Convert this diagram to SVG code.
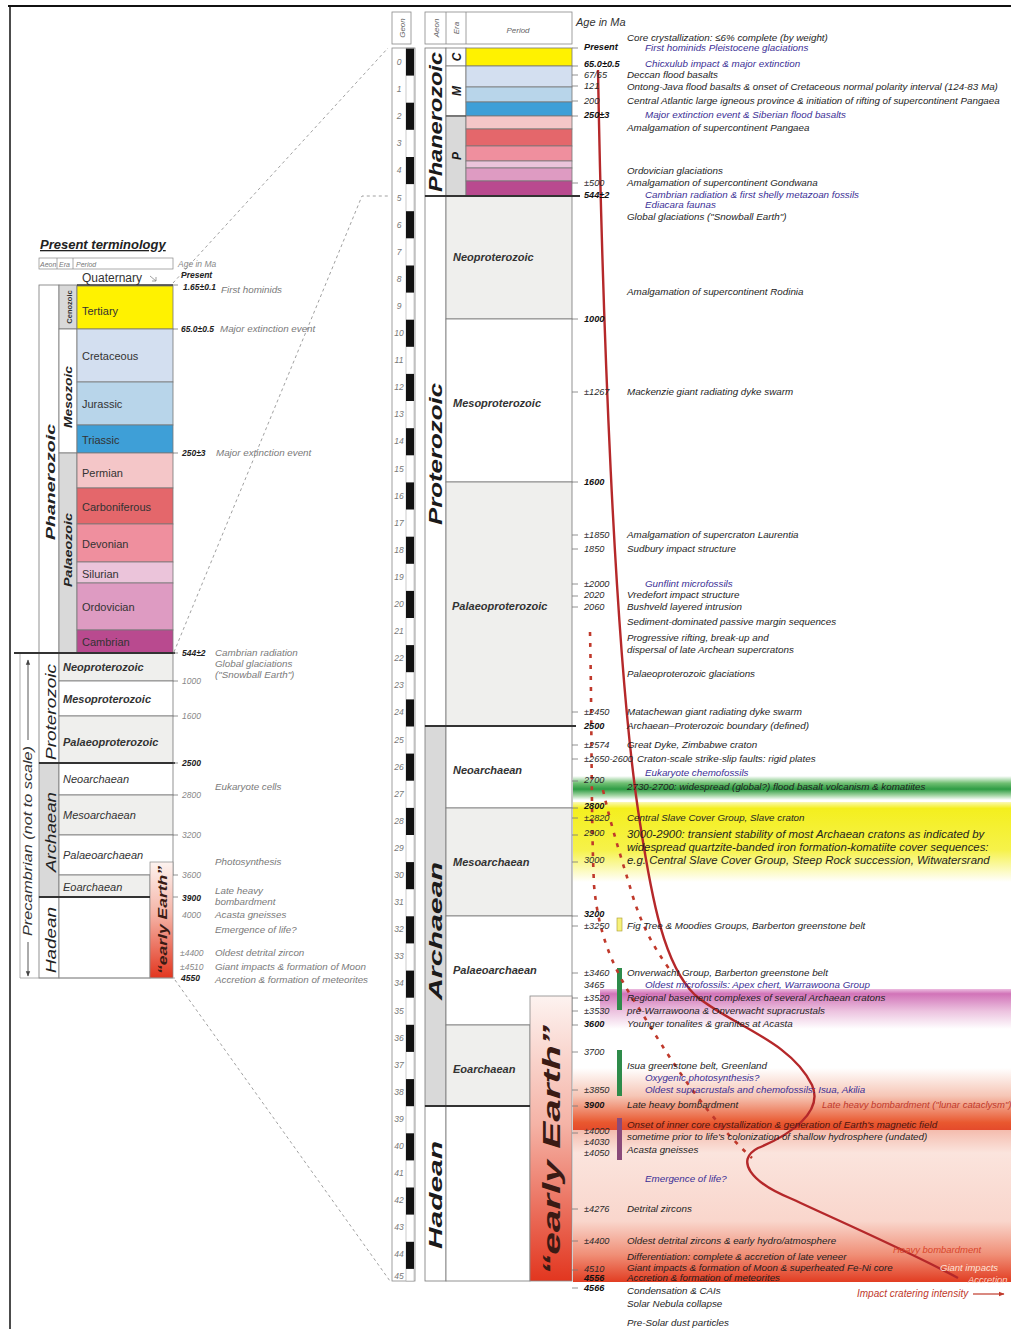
<svg xmlns="http://www.w3.org/2000/svg" width="1011" height="1329" viewBox="0 0 1011 1329">
<style>
text{font-family:"Liberation Sans",Arial,sans-serif}
.ev{font-size:9.8px;font-style:italic;fill:#1e1e1e}
.evl{font-size:11.4px;font-style:italic;fill:#1e1e1e}
.bl{font-size:9.8px;font-style:italic;fill:#3b2f96}
.ag{font-size:9.2px;font-style:italic;fill:#2a2a2a}
.agb{font-size:9.2px;font-style:italic;font-weight:bold;fill:#111}
.lev{font-size:9.8px;font-style:italic;fill:#7a7a7a}
.lag{font-size:8.5px;font-style:italic;fill:#888}
.lagb{font-size:8.5px;font-style:italic;font-weight:bold;fill:#222}
.pn{font-size:11px;fill:#333}
.pi{font-size:11px;font-style:italic;font-weight:bold;fill:#333}
.pil{font-size:11px;font-style:italic;fill:#333}
.aeon{font-weight:bold;font-style:italic;fill:#1a1a1a}
.gn{font-size:8.5px;font-style:italic;fill:#777;text-anchor:middle}
.hd{font-size:8px;font-style:italic;fill:#666}
.tk{stroke:#777;stroke-width:0.8}
.thick{stroke:#333;stroke-width:2.2}
.dash{stroke:#888;stroke-width:0.8;stroke-dasharray:3 3;fill:none}
.cell{stroke:#777;stroke-width:0.8}
</style>
<defs>
<linearGradient id="ee" x1="0" y1="0" x2="0" y2="1"><stop offset="0" stop-color="#fdf3f0"/><stop offset="0.45" stop-color="#f5b3a6"/><stop offset="1" stop-color="#e2361f"/></linearGradient>
<linearGradient id="gG" x1="0" y1="0" x2="0" y2="1"><stop offset="0" stop-color="#ffffff"/><stop offset="0.3" stop-color="#6fbf72"/><stop offset="0.55" stop-color="#2e9c44"/><stop offset="0.8" stop-color="#9fd3a0"/><stop offset="1" stop-color="#ffffff"/></linearGradient>
<linearGradient id="gY" x1="0" y1="0" x2="0" y2="1"><stop offset="0" stop-color="#fbf9b5"/><stop offset="0.08" stop-color="#f4ef1e"/><stop offset="0.6" stop-color="#f6f24a"/><stop offset="1" stop-color="#ffffff"/></linearGradient>
<linearGradient id="gM" x1="0" y1="0" x2="0" y2="1"><stop offset="0" stop-color="#ecbde0"/><stop offset="0.12" stop-color="#d173b8"/><stop offset="0.55" stop-color="#ecc2df"/><stop offset="1" stop-color="#ffffff"/></linearGradient>
<linearGradient id="gO" x1="0" y1="0" x2="0" y2="1"><stop offset="0" stop-color="#ffffff"/><stop offset="0.45" stop-color="#f6c6b6"/><stop offset="0.88" stop-color="#e9582f"/><stop offset="1" stop-color="#e44a2b"/></linearGradient>
<linearGradient id="gR" x1="0" y1="0" x2="0" y2="1"><stop offset="0" stop-color="#f4bcae"/><stop offset="0.15" stop-color="#fbe4dd"/><stop offset="0.6" stop-color="#f9d6cc"/><stop offset="0.82" stop-color="#f08f77"/><stop offset="1" stop-color="#e23d22"/></linearGradient>
<marker id="ah" viewBox="0 0 10 10" refX="9" refY="5" markerWidth="6" markerHeight="6" orient="auto-start-reverse"><path d="M0,1 L10,5 L0,9 z" fill="#444"/></marker>
<marker id="ahr" viewBox="0 0 10 10" refX="9" refY="5" markerWidth="5" markerHeight="5" orient="auto"><path d="M0,1 L10,5 L0,9 z" fill="#c0392b"/></marker>
</defs>

<rect width="1011" height="1329" fill="#ffffff"/>
<line x1="8" y1="6" x2="1011" y2="6" stroke="#111" stroke-width="2"/>
<line x1="10" y1="6" x2="10" y2="1329" stroke="#111" stroke-width="1.5"/>

<g id="bands">
<rect x="573" y="776" width="438" height="24" fill="url(#gG)"/>
<rect x="573" y="802" width="438" height="80" fill="url(#gY)"/>
<rect x="600" y="989" width="411" height="40" fill="url(#gM)"/>
<rect x="573" y="1068" width="438" height="62" fill="url(#gO)"/>
<rect x="573" y="1130" width="438" height="152" fill="url(#gR)"/>
</g>

<g id="connectors">
<line class="dash" x1="173" y1="283" x2="388" y2="48"/>
<polyline class="dash" points="174,652 362,196 390,196"/>
<line class="dash" x1="175" y1="980" x2="390" y2="1281"/>
</g>

<g id="left-panel">
<text x="40" y="249" font-size="13" font-weight="bold" font-style="italic" fill="#222" text-decoration="underline">Present terminology</text>
<rect x="39" y="258" width="134" height="11" fill="#fff" stroke="#888" stroke-width="0.7"/>
<line x1="57" y1="258" x2="57" y2="269" stroke="#888" stroke-width="0.7"/>
<line x1="73" y1="258" x2="73" y2="269" stroke="#888" stroke-width="0.7"/>
<text x="40" y="267" font-size="7" fill="#777" font-style="italic">Aeon</text>
<text x="59" y="267" font-size="7" fill="#777" font-style="italic">Era</text>
<text x="76" y="267" font-size="7" fill="#777" font-style="italic">Period</text>
<text x="178" y="267" class="lag">Age in Ma</text>
<text x="82" y="282" font-size="12" fill="#333">Quaternary</text>
<path d="M150,276 L156,281 M152,281 L156,281 L156,277" stroke="#888" stroke-width="0.8" fill="none"/>

<rect x="39" y="285" width="20" height="368" fill="#fff" class="cell"/>
<rect x="59" y="285" width="18" height="44" fill="#d9d9d9" class="cell"/>
<rect x="59" y="329" width="18" height="124" fill="#fff" class="cell"/>
<rect x="59" y="453" width="18" height="200" fill="#d9d9d9" class="cell"/>
<rect x="77" y="286" width="96" height="43" fill="#fff200" class="cell"/>
<rect x="77" y="329" width="96" height="53" fill="#d3dff0" class="cell"/>
<rect x="77" y="382" width="96" height="43" fill="#b8d5ea" class="cell"/>
<rect x="77" y="425" width="96" height="28" fill="#3e9fd7" class="cell"/>
<rect x="77" y="453" width="96" height="35" fill="#f4c6c8" class="cell"/>
<rect x="77" y="488" width="96" height="36" fill="#e4676b" class="cell"/>
<rect x="77" y="524" width="96" height="38" fill="#ef8f9e" class="cell"/>
<rect x="77" y="562" width="96" height="21" fill="#ebc4da" class="cell"/>
<rect x="77" y="583" width="96" height="47" fill="#de9bc2" class="cell"/>
<rect x="77" y="630" width="96" height="23" fill="#b94a8f" class="cell"/>
<line x1="77" y1="285" x2="173" y2="285" stroke="#333" stroke-width="1.5"/>
<text x="82" y="315" class="pn">Tertiary</text>
<text x="82" y="360" class="pn">Cretaceous</text>
<text x="82" y="408" class="pn">Jurassic</text>
<text x="82" y="444" class="pn">Triassic</text>
<text x="82" y="477" class="pn">Permian</text>
<text x="82" y="511" class="pn">Carboniferous</text>
<text x="82" y="548" class="pn">Devonian</text>
<text x="82" y="578" class="pn">Silurian</text>
<text x="82" y="611" class="pn">Ordovician</text>
<text x="82" y="646" class="pn">Cambrian</text>
<text transform="rotate(-90 72 307)" x="72" y="307" font-size="7.5" font-weight="bold" fill="#333" text-anchor="middle">Cenozoic</text>
<text transform="rotate(-90 72 397)" x="72" y="397" font-size="10.5" font-weight="bold" font-style="italic" fill="#222" text-anchor="middle" textLength="62" lengthAdjust="spacingAndGlyphs">Mesozoic</text>
<text transform="rotate(-90 72 550)" x="72" y="550" font-size="10.5" font-weight="bold" font-style="italic" fill="#222" text-anchor="middle" textLength="74" lengthAdjust="spacingAndGlyphs">Palaeozoic</text>
<text transform="rotate(-90 55 482)" x="55" y="482" font-size="13.5" font-weight="bold" font-style="italic" fill="#222" text-anchor="middle" textLength="116" lengthAdjust="spacingAndGlyphs">Phanerozoic</text>

<line x1="20" y1="653" x2="20" y2="978" stroke="#999" stroke-width="0.8"/>
<rect x="39" y="653" width="20" height="110" fill="#fff" class="cell"/>
<rect x="39" y="763" width="20" height="134" fill="#d9d9d9" class="cell"/>
<rect x="39" y="897" width="20" height="81" fill="#fff" class="cell"/>
<rect x="59" y="653" width="114" height="28" fill="#efefed" class="cell"/>
<rect x="59" y="681" width="114" height="35" fill="#fff" class="cell"/>
<rect x="59" y="716" width="114" height="47" fill="#efefed" class="cell"/>
<rect x="59" y="763" width="114" height="32" fill="#fff" class="cell"/>
<rect x="59" y="795" width="114" height="40" fill="#efefed" class="cell"/>
<rect x="59" y="835" width="114" height="40" fill="#fff" class="cell"/>
<rect x="59" y="875" width="91" height="22" fill="#efefed" class="cell"/>
<rect x="59" y="897" width="91" height="81" fill="#fff" class="cell"/>
<rect x="150" y="862" width="23" height="116" fill="url(#ee)" stroke="#888" stroke-width="0.7"/>
<line x1="14" y1="653" x2="175" y2="653" stroke="#333" stroke-width="1.8"/>
<line x1="39" y1="763" x2="175" y2="763" stroke="#333" stroke-width="1.8"/>
<line x1="39" y1="897" x2="150" y2="897" stroke="#333" stroke-width="1.8"/>
<line x1="20" y1="978" x2="175" y2="978" stroke="#999" stroke-width="0.8"/>
<text x="63" y="671" class="pi">Neoproterozoic</text>
<text x="63" y="703" class="pi">Mesoproterozoic</text>
<text x="63" y="746" class="pi">Palaeoproterozoic</text>
<text x="63" y="783" class="pil">Neoarchaean</text>
<text x="63" y="819" class="pil">Mesoarchaean</text>
<text x="63" y="859" class="pil">Palaeoarchaean</text>
<text x="63" y="891" class="pil">Eoarchaean</text>
<text transform="rotate(-90 56 712)" x="56" y="712" font-size="14" font-style="italic" fill="#222" text-anchor="middle" textLength="96" lengthAdjust="spacingAndGlyphs">Proterozoic</text>
<text transform="rotate(-90 56 832)" x="56" y="832" font-size="14" font-style="italic" fill="#222" text-anchor="middle" textLength="80" lengthAdjust="spacingAndGlyphs">Archaean</text>
<text transform="rotate(-90 56 940)" x="56" y="940" font-size="14" font-style="italic" fill="#222" text-anchor="middle" textLength="66" lengthAdjust="spacingAndGlyphs">Hadean</text>
<text transform="rotate(-90 167 920)" x="167" y="920" font-size="12" font-weight="bold" font-style="italic" fill="#3a1a14" text-anchor="middle" textLength="108" lengthAdjust="spacingAndGlyphs">“early Earth”</text>
<line x1="28" y1="740" x2="28" y2="660" stroke="#444" stroke-width="0.9" marker-end="url(#ah)"/>
<line x1="28" y1="942" x2="28" y2="976" stroke="#444" stroke-width="0.9" marker-end="url(#ah)"/>
<text transform="rotate(-90 32 841)" x="32" y="841" font-size="13" font-style="italic" fill="#333" text-anchor="middle" textLength="190" lengthAdjust="spacingAndGlyphs">Precambrian (not to scale)</text>

<g class="tk">
<line x1="173" y1="285" x2="178" y2="285"/><line x1="173" y1="329" x2="178" y2="329"/><line x1="173" y1="453" x2="178" y2="453"/>
<line x1="173" y1="653" x2="178" y2="653"/><line x1="173" y1="681" x2="178" y2="681"/><line x1="173" y1="716" x2="178" y2="716"/>
<line x1="173" y1="763" x2="178" y2="763"/><line x1="173" y1="795" x2="178" y2="795"/><line x1="173" y1="835" x2="178" y2="835"/>
<line x1="173" y1="875" x2="178" y2="875"/><line x1="173" y1="897" x2="178" y2="897"/>
</g>
<text x="181" y="278" class="lagb">Present</text>
<text x="183" y="290" class="lagb">1.65±0.1</text>
<text x="221" y="293" class="lev">First hominids</text>
<text x="181" y="332" class="lagb">65.0±0.5</text>
<text x="220" y="332" class="lev">Major extinction event</text>
<text x="182" y="456" class="lagb">250±3</text>
<text x="216" y="456" class="lev">Major extinction event</text>
<text x="182" y="656" class="lagb">544±2</text>
<text x="215" y="656" class="lev">Cambrian radiation</text>
<text x="215" y="667" class="lev">Global glaciations</text>
<text x="215" y="678" class="lev">("Snowball Earth")</text>
<text x="182" y="684" class="lag">1000</text>
<text x="182" y="719" class="lag">1600</text>
<text x="182" y="766" class="lagb">2500</text>
<text x="215" y="790" class="lev">Eukaryote cells</text>
<text x="182" y="798" class="lag">2800</text>
<text x="182" y="838" class="lag">3200</text>
<text x="215" y="865" class="lev">Photosynthesis</text>
<text x="182" y="878" class="lag">3600</text>
<text x="215" y="894" class="lev">Late heavy</text>
<text x="182" y="901" class="lagb">3900</text>
<text x="215" y="905" class="lev">bombardment</text>
<text x="182" y="918" class="lag">4000</text>
<text x="215" y="918" class="lev">Acasta gneisses</text>
<text x="215" y="933" class="lev">Emergence of life?</text>
<text x="180" y="956" class="lag">±4400</text>
<text x="215" y="956" class="lev">Oldest detrital zircon</text>
<text x="180" y="970" class="lag">±4510</text>
<text x="215" y="970" class="lev">Giant impacts &amp; formation of Moon</text>
<text x="181" y="981" class="lagb">4550</text>
<text x="215" y="983" class="lev">Accretion &amp; formation of meteorites</text>
</g>

<g id="geon-scale">
<rect x="392" y="12" width="19" height="32" fill="#fff" stroke="#888" stroke-width="0.8"/>
<text transform="rotate(-90 405 28)" x="405" y="28" class="hd" text-anchor="middle">Geon</text>
<rect x="392" y="48" width="23" height="1233" fill="#fff" stroke="#888" stroke-width="0.8"/>
<rect x="406" y="48" width="8" height="1233" fill="#fff" stroke="#999" stroke-width="0.5"/>
<g fill="#111">
<rect x="406" y="48.5" width="8" height="27.1"/><rect x="406" y="102.7" width="8" height="27.1"/><rect x="406" y="157" width="8" height="27.1"/>
<rect x="406" y="211.2" width="8" height="27.1"/><rect x="406" y="265.5" width="8" height="27.1"/><rect x="406" y="319.7" width="8" height="27.1"/>
<rect x="406" y="373.9" width="8" height="27.1"/><rect x="406" y="428.2" width="8" height="27.1"/><rect x="406" y="482.4" width="8" height="27.1"/>
<rect x="406" y="536.7" width="8" height="27.1"/><rect x="406" y="590.9" width="8" height="27.1"/><rect x="406" y="645.1" width="8" height="27.1"/>
<rect x="406" y="699.4" width="8" height="27.1"/><rect x="406" y="753.6" width="8" height="27.1"/><rect x="406" y="807.9" width="8" height="27.1"/>
<rect x="406" y="862.1" width="8" height="27.1"/><rect x="406" y="916.3" width="8" height="27.1"/><rect x="406" y="970.6" width="8" height="27.1"/>
<rect x="406" y="1024.8" width="8" height="27.1"/><rect x="406" y="1079.1" width="8" height="27.1"/><rect x="406" y="1133.3" width="8" height="27.1"/>
<rect x="406" y="1187.5" width="8" height="27.1"/><rect x="406" y="1241.8" width="8" height="27.1"/>
</g>
<text class="gn" x="399" y="65">0</text><text class="gn" x="399" y="92.1">1</text><text class="gn" x="399" y="119.2">2</text><text class="gn" x="399" y="146.3">3</text>
<text class="gn" x="399" y="173.4">4</text><text class="gn" x="399" y="200.5">5</text><text class="gn" x="399" y="227.6">6</text><text class="gn" x="399" y="254.7">7</text>
<text class="gn" x="399" y="281.8">8</text><text class="gn" x="399" y="308.9">9</text><text class="gn" x="399" y="336">10</text><text class="gn" x="399" y="363.1">11</text>
<text class="gn" x="399" y="390.2">12</text><text class="gn" x="399" y="417.3">13</text><text class="gn" x="399" y="444.4">14</text><text class="gn" x="399" y="471.5">15</text>
<text class="gn" x="399" y="498.6">16</text><text class="gn" x="399" y="525.7">17</text><text class="gn" x="399" y="552.8">18</text><text class="gn" x="399" y="579.9">19</text>
<text class="gn" x="399" y="607">20</text><text class="gn" x="399" y="634.1">21</text><text class="gn" x="399" y="661.2">22</text><text class="gn" x="399" y="688.3">23</text>
<text class="gn" x="399" y="715.4">24</text><text class="gn" x="399" y="742.5">25</text><text class="gn" x="399" y="769.6">26</text><text class="gn" x="399" y="796.7">27</text>
<text class="gn" x="399" y="823.8">28</text><text class="gn" x="399" y="850.9">29</text><text class="gn" x="399" y="878">30</text><text class="gn" x="399" y="905.1">31</text>
<text class="gn" x="399" y="932.2">32</text><text class="gn" x="399" y="959.3">33</text><text class="gn" x="399" y="986.4">34</text><text class="gn" x="399" y="1013.5">35</text>
<text class="gn" x="399" y="1040.6">36</text><text class="gn" x="399" y="1067.7">37</text><text class="gn" x="399" y="1094.8">38</text><text class="gn" x="399" y="1121.9">39</text>
<text class="gn" x="399" y="1149">40</text><text class="gn" x="399" y="1176.1">41</text><text class="gn" x="399" y="1203.2">42</text><text class="gn" x="399" y="1230.3">43</text>
<text class="gn" x="399" y="1257.4">44</text><text class="gn" x="399" y="1279">45</text>
</g>

<g id="time-scale">
<rect x="425" y="12" width="147" height="32" fill="#fff" stroke="#888" stroke-width="0.8"/>
<line x1="446" y1="12" x2="446" y2="44" stroke="#888" stroke-width="0.8"/>
<line x1="466" y1="12" x2="466" y2="44" stroke="#888" stroke-width="0.8"/>
<text transform="rotate(-90 439 28)" x="439" y="28" class="hd" text-anchor="middle">Aeon</text>
<text transform="rotate(-90 459 28)" x="459" y="28" class="hd" text-anchor="middle">Era</text>
<text x="518" y="33" class="hd" font-size="9" text-anchor="middle">Period</text>
<text x="576" y="26" font-size="11" font-style="italic" fill="#333">Age in Ma</text>

<rect x="425" y="48" width="21" height="148" fill="#fff" class="cell"/>
<rect x="425" y="196" width="21" height="530" fill="#fff" class="cell"/>
<rect x="425" y="726" width="21" height="380" fill="#d9d9d9" class="cell"/>
<rect x="425" y="1106" width="21" height="175" fill="#fff" class="cell"/>
<rect x="446" y="48" width="20" height="18" fill="#fff" class="cell"/>
<rect x="446" y="66" width="20" height="50" fill="#fff" class="cell"/>
<rect x="446" y="116" width="20" height="80" fill="#d9d9d9" class="cell"/>
<rect x="466" y="48" width="106" height="18" fill="#fff200" class="cell"/>
<rect x="466" y="66" width="106" height="21" fill="#d3dff0" class="cell"/>
<rect x="466" y="87" width="106" height="15" fill="#b8d5ea" class="cell"/>
<rect x="466" y="102" width="106" height="14" fill="#3e9fd7" class="cell"/>
<rect x="466" y="116" width="106" height="13" fill="#f4c6c8" class="cell"/>
<rect x="466" y="129" width="106" height="17" fill="#e4676b" class="cell"/>
<rect x="466" y="146" width="106" height="15" fill="#ef8f9e" class="cell"/>
<rect x="466" y="161" width="106" height="7" fill="#ebc4da" class="cell"/>
<rect x="466" y="168" width="106" height="13" fill="#de9bc2" class="cell"/>
<rect x="466" y="181" width="106" height="15" fill="#b94a8f" class="cell"/>
<rect x="446" y="196" width="126" height="123" fill="#efefed" class="cell"/>
<rect x="446" y="319" width="126" height="163" fill="#fff" class="cell"/>
<rect x="446" y="482" width="126" height="244" fill="#efefed" class="cell"/>
<rect x="446" y="726" width="126" height="82" fill="#fff" class="cell"/>
<rect x="446" y="808" width="126" height="108" fill="#efefed" class="cell"/>
<rect x="446" y="916" width="126" height="109" fill="#fff" class="cell"/>
<rect x="446" y="1025" width="84" height="81" fill="#efefed" class="cell"/>
<rect x="446" y="1106" width="84" height="175" fill="#fff" class="cell"/>
<rect x="530" y="996" width="42" height="285" fill="url(#ee)" stroke="#888" stroke-width="0.8"/>
<line x1="425" y1="196" x2="580" y2="196" class="thick"/>
<line x1="425" y1="726" x2="576" y2="726" class="thick"/>
<line x1="425" y1="1106" x2="530" y2="1106" class="thick"/>
<line x1="446" y1="116" x2="466" y2="116" stroke="#444" stroke-width="1"/>

<text transform="rotate(-90 442 122)" x="442" y="122" class="aeon" font-size="18" text-anchor="middle" textLength="140" lengthAdjust="spacingAndGlyphs">Phanerozoic</text>
<text transform="rotate(-90 442 454)" x="442" y="454" class="aeon" font-size="18" text-anchor="middle" textLength="142" lengthAdjust="spacingAndGlyphs">Proterozoic</text>
<text transform="rotate(-90 442 931)" x="442" y="931" class="aeon" font-size="18" text-anchor="middle" textLength="138" lengthAdjust="spacingAndGlyphs">Archaean</text>
<text transform="rotate(-90 442 1195)" x="442" y="1195" class="aeon" font-size="18" text-anchor="middle" textLength="108" lengthAdjust="spacingAndGlyphs">Hadean</text>
<text transform="rotate(-90 461 57)" x="461" y="57" class="aeon" font-size="12" text-anchor="middle">C</text>
<text transform="rotate(-90 461 91)" x="461" y="91" class="aeon" font-size="12" text-anchor="middle">M</text>
<text transform="rotate(-90 461 156)" x="461" y="156" class="aeon" font-size="12" text-anchor="middle">P</text>
<text x="453" y="261" class="pi">Neoproterozoic</text>
<text x="453" y="407" class="pi">Mesoproterozoic</text>
<text x="452" y="610" class="pi">Palaeoproterozoic</text>
<text x="453" y="774" class="pi">Neoarchaean</text>
<text x="453" y="866" class="pi">Mesoarchaean</text>
<text x="453" y="974" class="pi">Palaeoarchaean</text>
<text x="453" y="1073" class="pi">Eoarchaean</text>
<text transform="rotate(-90 560 1150)" x="560" y="1150" font-size="24" font-weight="bold" font-style="italic" fill="#3a1a14" text-anchor="middle" textLength="250" lengthAdjust="spacingAndGlyphs">“early Earth”</text>
</g>

<g id="bars">
<rect x="617" y="918" width="5" height="13" fill="#f7f17a" stroke="#a89a30" stroke-width="0.6"/>
<rect x="617" y="968" width="5" height="42" fill="#2e8b4a"/>
<rect x="617" y="1050" width="5" height="46" fill="#2e8b4a"/>
<rect x="617" y="1118" width="5" height="42" fill="#8a4a7a"/>
</g>

<g id="impact-curves" fill="none">
<path d="M598,70 C602,300 614,660 640,823 C652,900 664,965 695,995 C730,1025 790,1040 812,1085 C824,1112 790,1135 758,1148 C735,1160 750,1182 792,1199 C850,1226 910,1252 958,1278" stroke="#b5282a" stroke-width="2.4"/>
<path d="M590,632 C592,720 591,820 594,885 C598,930 610,965 640,1010 C665,1050 700,1110 752,1158" stroke="#c0392b" stroke-width="2.6" stroke-dasharray="4 7"/>
<path d="M603,790 C612,830 622,860 633,897 C642,925 652,945 670,970" stroke="#c0392b" stroke-width="2.6" stroke-dasharray="4 7"/>
</g>

<g id="ages">
<g class="tk">
<line x1="572" y1="48" x2="578" y2="48"/><line x1="572" y1="66" x2="578" y2="66"/><line x1="572" y1="75" x2="578" y2="75"/><line x1="572" y1="86" x2="578" y2="86"/>
<line x1="572" y1="101" x2="578" y2="101"/><line x1="572" y1="116" x2="578" y2="116"/><line x1="572" y1="183" x2="578" y2="183"/>
<line x1="572" y1="319" x2="578" y2="319"/><line x1="572" y1="392" x2="578" y2="392"/><line x1="572" y1="482" x2="578" y2="482"/>
<line x1="572" y1="535" x2="578" y2="535"/><line x1="572" y1="549" x2="578" y2="549"/><line x1="572" y1="584" x2="578" y2="584"/>
<line x1="572" y1="596" x2="578" y2="596"/><line x1="572" y1="607" x2="578" y2="607"/><line x1="572" y1="712" x2="578" y2="712"/>
<line x1="572" y1="745" x2="578" y2="745"/><line x1="572" y1="759" x2="578" y2="759"/><line x1="572" y1="781" x2="578" y2="781"/>
<line x1="572" y1="808" x2="578" y2="808"/><line x1="572" y1="818" x2="578" y2="818"/><line x1="572" y1="835" x2="578" y2="835"/>
<line x1="572" y1="862" x2="578" y2="862"/><line x1="572" y1="916" x2="578" y2="916"/><line x1="572" y1="926" x2="578" y2="926"/>
<line x1="572" y1="973" x2="578" y2="973"/><line x1="572" y1="998" x2="578" y2="998"/><line x1="572" y1="1011" x2="578" y2="1011"/>
<line x1="572" y1="1025" x2="578" y2="1025"/><line x1="572" y1="1052" x2="578" y2="1052"/><line x1="572" y1="1090" x2="578" y2="1090"/>
<line x1="572" y1="1106" x2="578" y2="1106"/><line x1="572" y1="1133" x2="578" y2="1133"/><line x1="572" y1="1209" x2="578" y2="1209"/>
<line x1="572" y1="1241" x2="578" y2="1241"/><line x1="572" y1="1270" x2="578" y2="1270"/><line x1="572" y1="1288" x2="578" y2="1288"/>
</g>
<text x="584" y="50" class="agb">Present</text>
<text x="584" y="67" class="agb">65.0±0.5</text>
<text x="584" y="78" class="ag">67/65</text>
<text x="584" y="89" class="ag">121</text>
<text x="584" y="104" class="ag">200</text>
<text x="584" y="118" class="agb">250±3</text>
<text x="584" y="186" class="ag">±500</text>
<text x="584" y="198" class="agb">544±2</text>
<text x="584" y="322" class="agb">1000</text>
<text x="584" y="395" class="ag">±1267</text>
<text x="584" y="485" class="agb">1600</text>
<text x="584" y="538" class="ag">±1850</text>
<text x="584" y="552" class="ag">1850</text>
<text x="584" y="587" class="ag">±2000</text>
<text x="584" y="598" class="ag">2020</text>
<text x="584" y="610" class="ag">2060</text>
<text x="584" y="715" class="ag">±2450</text>
<text x="584" y="729" class="agb">2500</text>
<text x="584" y="748" class="ag">±2574</text>
<text x="584" y="762" class="ag">±2650-2600</text>
<text x="584" y="783" class="ag">2700</text>
<text x="584" y="809" class="agb">2800</text>
<text x="584" y="821" class="ag">±2820</text>
<text x="584" y="836" class="ag">2900</text>
<text x="584" y="863" class="ag">3000</text>
<text x="584" y="917" class="agb">3200</text>
<text x="584" y="929" class="ag">±3250</text>
<text x="584" y="976" class="ag">±3460</text>
<text x="584" y="988" class="ag">3465</text>
<text x="584" y="1001" class="ag">±3520</text>
<text x="584" y="1014" class="ag">±3530</text>
<text x="584" y="1027" class="agb">3600</text>
<text x="584" y="1055" class="ag">3700</text>
<text x="584" y="1093" class="ag">±3850</text>
<text x="584" y="1108" class="agb">3900</text>
<text x="584" y="1134" class="ag">±4000</text>
<text x="584" y="1145" class="ag">±4030</text>
<text x="584" y="1156" class="ag">±4050</text>
<text x="584" y="1212" class="ag">±4276</text>
<text x="584" y="1244" class="ag">±4400</text>
<text x="584" y="1272" class="ag">4510</text>
<text x="584" y="1281" class="agb">4556</text>
<text x="584" y="1291" class="agb">4566</text>
</g>

<g id="events">
<text x="627" y="41" class="ev">Core crystallization: ≤6% complete (by weight)</text>
<text x="645" y="51" class="bl">First hominids   Pleistocene glaciations</text>
<text x="645" y="67" class="bl">Chicxulub impact &amp; major extinction</text>
<text x="627" y="78" class="ev">Deccan flood basalts</text>
<text x="627" y="90" class="ev">Ontong-Java flood basalts &amp; onset of Cretaceous normal polarity interval (124-83 Ma)</text>
<text x="627" y="104" class="ev">Central Atlantic large igneous province &amp; initiation of rifting of supercontinent Pangaea</text>
<text x="645" y="118" class="bl">Major extinction event &amp; Siberian flood basalts</text>
<text x="627" y="131" class="ev">Amalgamation of supercontinent Pangaea</text>
<text x="627" y="174" class="ev">Ordovician glaciations</text>
<text x="627" y="186" class="ev">Amalgamation of supercontinent Gondwana</text>
<text x="645" y="198" class="bl">Cambrian radiation &amp; first shelly metazoan fossils</text>
<text x="645" y="208" class="bl">Ediacara faunas</text>
<text x="627" y="220" class="ev">Global glaciations ("Snowball Earth")</text>
<text x="627" y="295" class="ev">Amalgamation of supercontinent Rodinia</text>
<text x="627" y="395" class="ev">Mackenzie giant radiating dyke swarm</text>
<text x="627" y="538" class="ev">Amalgamation of supercraton Laurentia</text>
<text x="627" y="552" class="ev">Sudbury impact structure</text>
<text x="645" y="587" class="bl">Gunflint microfossils</text>
<text x="627" y="598" class="ev">Vredefort impact structure</text>
<text x="627" y="610" class="ev">Bushveld layered intrusion</text>
<text x="627" y="625" class="ev">Sediment-dominated passive margin sequences</text>
<text x="627" y="641" class="ev">Progressive rifting, break-up and</text>
<text x="627" y="653" class="ev">dispersal of late Archean supercratons</text>
<text x="627" y="677" class="ev">Palaeoproterozoic glaciations</text>
<text x="627" y="715" class="ev">Matachewan giant radiating dyke swarm</text>
<text x="627" y="729" class="ev">Archaean–Proterozoic boundary (defined)</text>
<text x="627" y="748" class="ev">Great Dyke, Zimbabwe craton</text>
<text x="637" y="762" class="ev">Craton-scale strike-slip faults: rigid plates</text>
<text x="645" y="776" class="bl">Eukaryote chemofossils</text>
<text x="627" y="790" class="ev">2730-2700: widespread (global?) flood basalt volcanism &amp; komatiites</text>
<text x="627" y="821" class="ev">Central Slave Cover Group, Slave craton</text>
<text x="627" y="838" class="evl">3000-2900: transient stability of most Archaean cratons as indicated by</text>
<text x="627" y="851" class="evl">widespread quartzite-banded iron formation-komatiite cover sequences:</text>
<text x="627" y="864" class="evl">e.g. Central Slave Cover Group, Steep Rock succession, Witwatersrand</text>
<text x="627" y="929" class="ev">Fig Tree &amp; Moodies Groups, Barberton greenstone belt</text>
<text x="627" y="976" class="ev">Onverwacht Group, Barberton greenstone belt</text>
<text x="645" y="988" class="bl">Oldest microfossils: Apex chert, Warrawoona Group</text>
<text x="627" y="1001" class="ev">Regional basement complexes of several Archaean cratons</text>
<text x="627" y="1014" class="ev">pre-Warrawoona &amp; Onverwacht supracrustals</text>
<text x="627" y="1027" class="ev">Younger tonalites &amp; granites at Acasta</text>
<text x="627" y="1069" class="ev">Isua greenstone belt, Greenland</text>
<text x="645" y="1081" class="bl">Oxygenic photosynthesis?</text>
<text x="645" y="1093" class="bl">Oldest supracrustals and chemofossils: Isua, Akilia</text>
<text x="627" y="1108" class="ev">Late heavy bombardment</text>
<text x="822" y="1108" font-size="9.5" font-style="italic" fill="#c0392b">Late heavy bombardment ("lunar cataclysm")</text>
<text x="627" y="1128" class="ev" style="fill:#4a1410">Onset of inner core crystallization &amp; generation of Earth's magnetic field</text>
<text x="627" y="1140" class="ev">sometime prior to life's colonization of shallow hydrosphere (undated)</text>
<text x="627" y="1153" class="ev">Acasta gneisses</text>
<text x="645" y="1182" class="bl">Emergence of life?</text>
<text x="627" y="1212" class="ev">Detrital zircons</text>
<text x="627" y="1244" class="ev">Oldest detrital zircons &amp; early hydro/atmosphere</text>
<text x="627" y="1260" class="ev">Differentiation: complete &amp; accretion of late veneer</text>
<text x="627" y="1271" class="ev">Giant impacts &amp; formation of Moon &amp; superheated Fe-Ni core</text>
<text x="627" y="1281" class="ev">Accretion &amp; formation of meteorites</text>
<text x="627" y="1294" class="ev">Condensation &amp; CAIs</text>
<text x="627" y="1307" class="ev">Solar Nebula collapse</text>
<text x="627" y="1326" class="ev">Pre-Solar dust particles</text>
<text x="893" y="1253" font-size="9.5" font-style="italic" fill="#d9472c">Heavy bombardment</text>
<text x="940" y="1271" font-size="9.5" font-style="italic" fill="#fde3d8">Giant impacts</text>
<text x="968" y="1283" font-size="9.5" font-style="italic" fill="#fbd3c4">Accretion</text>
<text x="857" y="1297" font-size="10" font-style="italic" fill="#c0392b">Impact cratering intensity</text>
<line x1="973" y1="1294" x2="1004" y2="1294" stroke="#c0392b" stroke-width="1.2" marker-end="url(#ahr)"/>
</g>
</svg>
